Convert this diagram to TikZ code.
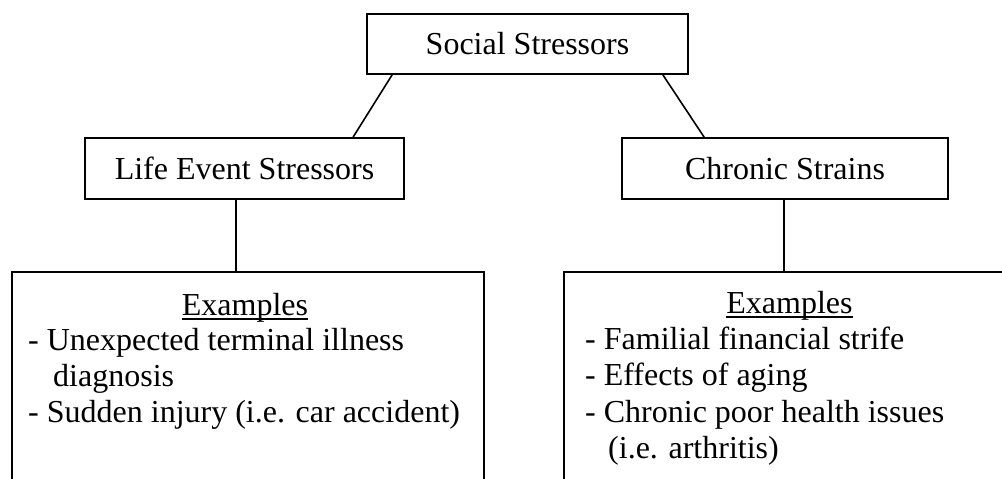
\documentclass[tikz,border=0pt]{standalone}
\usepackage{fontspec}
\setmainfont{Liberation Serif}
\begin{document}
\begin{tikzpicture}[x=1pt,y=-1pt,
  box/.style={draw,line width=1.8pt,rectangle,inner sep=0pt,font=\fontsize{32}{36}\selectfont},
  txt/.style={inner sep=0pt,font=\fontsize{32}{36}\selectfont},
  link/.style={line width=1.6pt}]
\useasboundingbox (0,0) rectangle (1002,479);
\clip (0,0) rectangle (1002,479);
\node[box,minimum width=321pt,minimum height=60pt] (social) at (527.5,44) {Social Stressors};
\node[box,minimum width=319pt,minimum height=61pt] (life) at (244.5,168.5) {Life Event Stressors};
\node[box,minimum width=326pt,minimum height=61pt] (chronic) at (785,168.5) {Chronic Strains};
\node[box,minimum width=472pt,minimum height=260pt] (leftbox) at (248,402) {};
\node[box,minimum width=480pt,minimum height=260pt] (rightbox) at (804,402) {};
\draw[link] ([xshift=26pt]social.south west) -- ([xshift=269pt]life.north west);
\draw[link] ([xshift=-26pt]social.south east) -- ([xshift=83pt]chronic.north west);
\draw[link] ([xshift=-8.5pt]life.south) -- ([xshift=-8.5pt]life.south |- leftbox.north);
\draw[link] ([xshift=-1pt]chronic.south) -- ([xshift=-1pt]chronic.south |- rightbox.north);
% left examples
\node[txt,anchor=base] (exL) at (245,315) {Examples};
\draw[line width=1.5pt] ([yshift=-4pt]exL.base west) -- ([yshift=-4pt]exL.base east);
\node[txt,anchor=base west] (l1) at (28,350) {- Unexpected terminal illness};
\node[txt,anchor=base west] (l2) at (53,386) {diagnosis};
\node[txt,anchor=base west] (l3) at (28,422) {- Sudden injury (i.e. car accident)};
% right examples
\node[txt,anchor=base] (exR) at (789.5,313) {Examples};
\draw[line width=1.5pt] ([yshift=-4pt]exR.base west) -- ([yshift=-4pt]exR.base east);
\node[txt,anchor=base west] (r1) at (585,349) {- Familial financial strife};
\node[txt,anchor=base west] (r2) at (585,385) {- Effects of aging};
\node[txt,anchor=base west] (r3) at (585,422) {- Chronic poor health issues};
\node[txt,anchor=base west] (r4) at (608,458) {(i.e. arthritis)};
\end{tikzpicture}
\end{document}
